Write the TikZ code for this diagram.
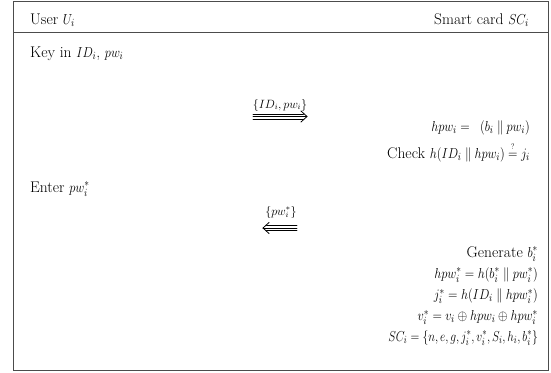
\documentclass[tikz,border=0pt]{standalone}
\usepackage{amsmath,amssymb,graphicx}
\newcommand{\mq}[2][0.86]{\scalebox{#1}[1]{$#2$}}
\newcommand{\pll}{\mathrel{\|}}
\begin{document}
\begin{tikzpicture}[x=1pt,y=-1pt,
  txt/.style={inner sep=0pt,font=\fontsize{15.5}{18}\selectfont},
  lbl/.style={inner sep=0pt,font=\fontsize{12}{14}\selectfont},
  frame/.style={draw=black!70,line width=0.9pt},
  arrline/.style={draw=black,line width=0.8pt,line cap=round,line join=round}]
\useasboundingbox (0,0) rectangle (551,372);
\draw[frame] (13,1) rectangle (548,370);
\draw[frame] (13,32) -- (548,32);

\node[txt,anchor=base west] (user) at (30,24) {User \mq{U_i}};
\node[txt,anchor=base east] (card) at (529,24) {Smart card \mq{SC_i}};
\node[txt,anchor=base west] (key) at (30,57) {Key in \mq{ID_i}, \mq{pw_i}};

% message 1
\node[lbl,anchor=base] (m1) at (280,108) {$\{ID_i,pw_i\}$};
\coordinate (a1s) at (253,116.5);
\coordinate (a1e) at (307,116.5);
\draw[arrline] ([yshift=-2.6pt]a1s) -- ([yshift=-2.6pt,xshift=-3.5pt]a1e);
\draw[arrline] (a1s) -- (a1e);
\draw[arrline] ([yshift=2.6pt]a1s) -- ([yshift=2.6pt,xshift=-3.5pt]a1e);
\draw[arrline] ([xshift=-6pt,yshift=-5.5pt]a1e) -- (a1e) -- ([xshift=-6pt,yshift=5.5pt]a1e);

\node[txt,anchor=base east] (hpw) at (530,131) {\mq{hpw_i = \;\;(b_i \pll pw_i)}};
\node[txt,anchor=base east] (check) at (530,158) {Check \mq{h(ID_i \pll hpw_i)\stackrel{\scriptscriptstyle ?}{=}j_i}};

\node[txt,anchor=base west] (enter) at (30,192) {Enter \mq{pw_i^*}};

% message 2
\node[lbl,anchor=base] (m2) at (281,215) {$\{pw_i^*\}$};
\coordinate (a2s) at (297,228);
\coordinate (a2e) at (263,228);
\draw[arrline] ([yshift=-2.6pt]a2s) -- ([yshift=-2.6pt,xshift=3.5pt]a2e);
\draw[arrline] (a2s) -- (a2e);
\draw[arrline] ([yshift=2.6pt]a2s) -- ([yshift=2.6pt,xshift=3.5pt]a2e);
\draw[arrline] ([xshift=6pt,yshift=-5.5pt]a2e) -- (a2e) -- ([xshift=6pt,yshift=5.5pt]a2e);

\node[txt,anchor=base east] (gen) at (538,257) {Generate \mq{b_i^*}};
\node[txt,anchor=base east] (r2) at (538,278) {\mq{hpw_i^* = h(b_i^* \pll pw_i^*)}};
\node[txt,anchor=base east] (r3) at (538,299.5) {\mq{j_i^* = h(ID_i \pll hpw_i^*)}};
\node[txt,anchor=base east] (r4) at (538,320.5) {\mq{v_i^* = v_i \oplus hpw_i \oplus hpw_i^*}};
\node[txt,anchor=base east] (r5) at (538,341) {\mq[0.8]{SC_i = \{n,e,g,j_i^*,v_i^*,S_i,h_i,b_i^*\}}};
\end{tikzpicture}
\end{document}
